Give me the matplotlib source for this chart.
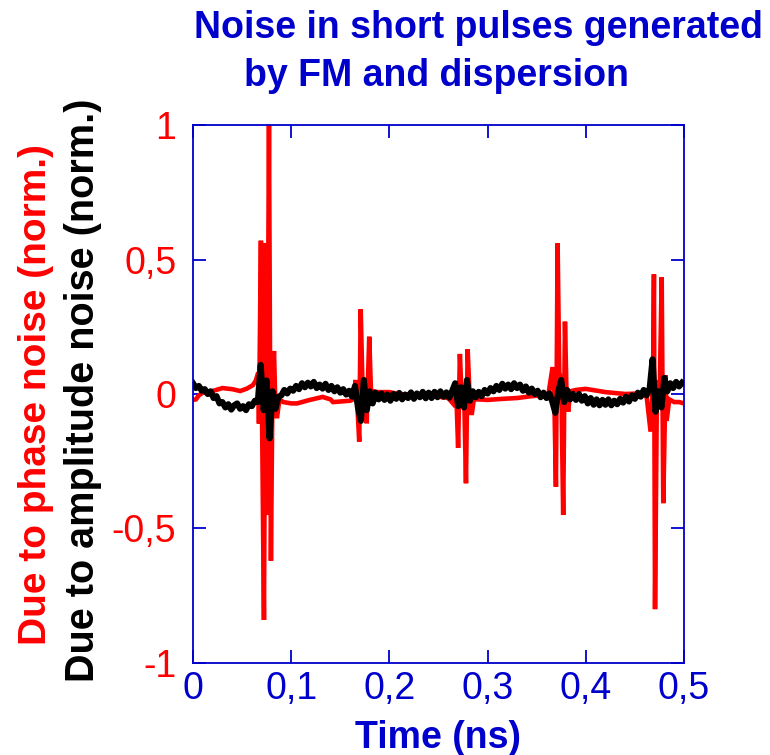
import numpy as np
import matplotlib
matplotlib.use("Agg")
import matplotlib.pyplot as plt

plt.rcParams['font.family'] = ['Liberation Sans', 'DejaVu Sans']

BLUE = (0.0, 0.0, 0.8)
RED = (1.0, 0.0, 0.0)

# Phase-noise trace (time in ns, normalised amplitude)
phase_t = [0.000, 0.003, 0.006, 0.010, 0.020, 0.030, 0.040, 0.048, 0.055, 0.061,
           0.064, 0.0665, 0.0672, 0.0692, 0.0700, 0.0723, 0.0740, 0.0754, 0.0774, 0.0794,
           0.0810, 0.0825, 0.0840, 0.0855, 0.088, 0.092, 0.100, 0.106, 0.119, 0.132,
           0.140, 0.1426, 0.150, 0.160, 0.163, 0.1657, 0.1675, 0.1693, 0.1708, 0.1730,
           0.1750, 0.1769, 0.1795, 0.1815, 0.184, 0.1874, 0.200, 0.210, 0.230, 0.250,
           0.260, 0.2647, 0.268, 0.270, 0.2718, 0.274, 0.276, 0.278, 0.2797, 0.2818,
           0.2838, 0.286, 0.290, 0.300, 0.315, 0.330, 0.345, 0.355, 0.362, 0.3662,
           0.368, 0.3696, 0.3713, 0.373, 0.375, 0.3770, 0.3788, 0.3805, 0.3821, 0.384,
           0.390, 0.400, 0.420, 0.440, 0.455, 0.462, 0.466, 0.4685, 0.4694, 0.4705,
           0.4725, 0.475, 0.4773, 0.4789, 0.4813, 0.4823, 0.485, 0.490, 0.495, 0.500]
phase_v = [-0.022, -0.020, -0.005, 0.005, 0.011, 0.022, 0.018, 0.011, 0.020, 0.033,
           0.050, 0.080, -0.110, 0.570, 0.050, -0.840, 0.560, -0.450, 1.000, -0.620,
           0.050, 0.160, -0.050, -0.090, -0.020, -0.030, -0.035, -0.035, -0.022, -0.011,
           -0.020, -0.030, -0.028, -0.025, -0.020, 0.052, -0.050, -0.177, 0.315, -0.030,
           0.060, -0.109, 0.213, -0.020, 0.010, 0.007, 0.007, 0.000, -0.004, -0.010,
           -0.015, -0.035, 0.020, -0.200, 0.149, -0.050, 0.030, -0.332, 0.167, -0.020,
           -0.078, -0.020, -0.020, -0.022, -0.018, -0.015, -0.008, -0.005, 0.000, 0.100,
           -0.020, -0.345, 0.560, 0.080, 0.050, -0.450, 0.269, -0.020, -0.066, 0.010,
           0.015, 0.019, 0.007, 0.000, 0.002, -0.010, -0.140, 0.050, 0.445, -0.800,
           0.050, -0.050, 0.434, -0.406, 0.070, -0.100, -0.020, -0.030, -0.030, -0.035]

# Amplitude-noise trace, sampled every 3 ps from 0 to 0.498 ns
amp_v = [0.040, 0.022, 0.030, 0.012, 0.018, 0.000, 0.010, -0.015, -0.008, -0.035,
         -0.030, -0.050, -0.038, -0.058, -0.042, -0.035, -0.055, -0.045, -0.060, -0.038,
         -0.045, -0.025, -0.030, 0.108, -0.060, 0.050, -0.165, 0.010, -0.055, -0.010,
         -0.005, 0.015, 0.002, 0.020, 0.012, 0.030, 0.018, 0.040, 0.025, 0.042,
         0.028, 0.045, 0.022, 0.035, 0.020, 0.038, 0.015, 0.030, 0.010, 0.025,
         0.005, 0.018, -0.002, 0.012, -0.010, 0.030, -0.050, -0.100, 0.052, -0.060,
         0.010, -0.035, 0.005, -0.020, 0.002, -0.022, -0.002, -0.025, 0.000, -0.018,
         0.004, -0.020, -0.002, -0.015, 0.006, -0.018, 0.002, -0.012, 0.008, -0.016,
         0.005, -0.015, 0.008, -0.012, 0.010, -0.010, 0.006, -0.014, 0.012, 0.040,
         -0.045, 0.025, -0.050, 0.052, -0.025, 0.010, -0.012, 0.008, -0.008, 0.015,
         0.002, 0.022, 0.010, 0.030, 0.015, 0.038, 0.020, 0.035, 0.018, 0.040,
         0.022, 0.035, 0.012, 0.028, 0.005, 0.020, 0.000, 0.012, -0.012, 0.005,
         -0.015, 0.002, -0.030, -0.070, 0.010, 0.052, -0.030, 0.015, -0.020, 0.000,
         -0.022, 0.000, -0.025, -0.008, -0.035, -0.015, -0.040, -0.020, -0.042, -0.022,
         -0.040, -0.020, -0.042, -0.025, -0.038, -0.018, -0.032, -0.010, -0.028, -0.005,
         -0.018, 0.005, -0.010, 0.015, -0.005, 0.020, 0.129, -0.066, 0.010, -0.050,
         0.060, 0.010, 0.040, 0.022, 0.045, 0.028, 0.042]
amp_t = np.linspace(0.0, 0.498, len(amp_v))

x_ticks = [0.0, 0.1, 0.2, 0.3, 0.4, 0.5]
x_tick_labels = ["0", "0,1", "0,2", "0,3", "0,4", "0,5"]
y_ticks = [-1.0, -0.5, 0.0, 0.5, 1.0]
y_tick_labels = ["-1", "-0,5", "0", "0,5", "1"]

fig = plt.figure(figsize=(7.7, 7.55), dpi=100)
ax = fig.add_axes([0.2506, 0.1219, 0.6377, 0.7125])

ax.plot(phase_t, phase_v, color=RED, lw=3.3, solid_joinstyle='miter', zorder=2)
ax.plot(amp_t, amp_v, color='black', lw=4.4, zorder=3)

ax.set_xlim(0, 0.5)
ax.set_ylim(-1, 1)
ax.set_xticks(x_ticks)
ax.set_xticklabels(x_tick_labels)
ax.set_yticks(y_ticks)
ax.set_yticklabels(y_tick_labels)

for s in ax.spines.values():
    s.set_color(BLUE)
    s.set_linewidth(1.3)

ax.tick_params(direction='in', length=9.5, width=1.3, color=BLUE,
               top=True, right=True, labelsize=27)
ax.tick_params(axis='x', labelcolor=BLUE, pad=6)
ax.tick_params(axis='y', labelcolor=RED, pad=12)

ax.set_xlabel("Time (ns)", color=BLUE, fontsize=27, fontweight='bold', labelpad=9)

fig.text(0.621, 0.963, "Noise in short pulses generated", color=BLUE,
         fontsize=27, fontweight='bold', ha='center', va='center')
fig.text(0.567, 0.900, "by FM and dispersion", color=BLUE,
         fontsize=27, fontweight='bold', ha='center', va='center')

fig.text(0.047, 0.477, "Due to phase noise (norm.)", color=RED, rotation=90,
         fontsize=28, fontweight='bold', ha='center', va='center')
fig.text(0.108, 0.483, "Due to amplitude noise (norm.)", color='black', rotation=90,
         fontsize=28.5, fontweight='bold', ha='center', va='center')

fig.savefig("out.png", dpi=100)
